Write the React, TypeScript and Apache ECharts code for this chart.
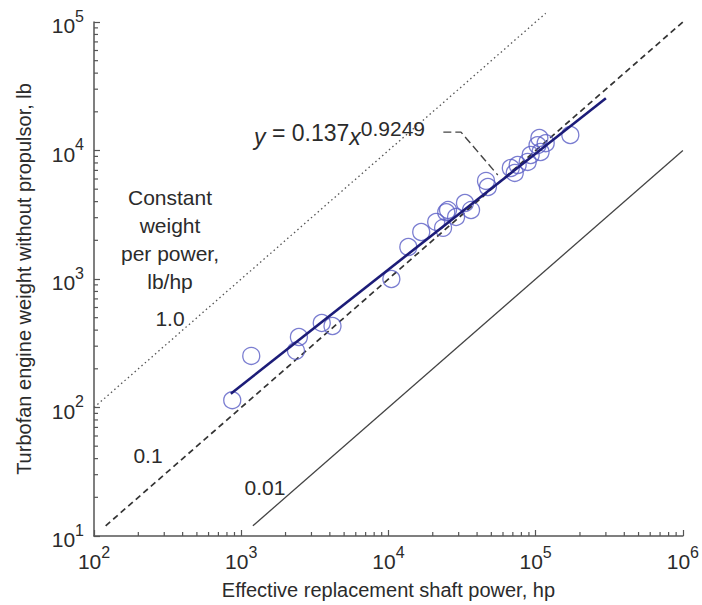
import React, { useEffect, useRef } from "react";
import * as echarts from "echarts";

// Measured engines: effective replacement shaft power (hp) vs. weight without propulsor (lb)
const powerHp = [869, 1170, 2465, 2355, 3524, 4170, 10470, 13650, 16700, 21100, 23500, 24700, 25400, 28800, 33100, 36400, 47400, 46000, 67800, 75500, 72100, 88300, 92500, 103000, 108000, 117000, 106000, 172000];
const weightLb = [114, 252, 354, 276, 455, 431, 1000, 1775, 2320, 2780, 2500, 3310, 3440, 3040, 3900, 3440, 5200, 5800, 7310, 7710, 6690, 8150, 9230, 11000, 9730, 11400, 12500, 13200];

// Fitted power law (as drawn)
const fitX = [850, 300000];
const fitY = [128, 25500];

// Constant weight-per-power reference lines (lb/hp)
const ratioOneX = [100, 117000];
const ratioOneY = [100, 117000];
const ratioTenthX = [120, 1000000];
const ratioTenthY = [12, 100000];
const ratioHundredthX = [1200, 1000000];
const ratioHundredthY = [12, 10000];

// Leader from equation label to fit line
const leaderX = [23600, 31100, 55300];
const leaderY = [13900, 13900, 6440];

// Axis extents / minor tick multipliers
const xDecades = [2, 3, 4, 5];
const yDecades = [1, 2, 3, 4];
const minorMultipliers = [2, 3, 4, 5, 6, 7, 8, 9];

const FONT = "Liberation Sans, Arial, sans-serif";
const TEXT = "#2b2b2b";

export default function App() {
  const ref = useRef<HTMLDivElement>(null);
  useEffect(() => {
    if (!ref.current) return;
    const chart = echarts.init(ref.current, null, { renderer: "svg" });

    const xMinor: number[][] = [];
    xDecades.forEach((d) => minorMultipliers.forEach((m) => xMinor.push([m * Math.pow(10, d), 10])));
    const yMinor: number[][] = [];
    yDecades.forEach((d) => minorMultipliers.forEach((m) => yMinor.push([100, m * Math.pow(10, d)])));

    const pow10Label = (v: number) => `{b|10}{s|${Math.round(Math.log10(v))}}`;
    const labelRich = {
      b: { fontSize: 21, fontFamily: FONT, color: TEXT, lineHeight: 28, verticalAlign: "bottom" },
      s: { fontSize: 16, fontFamily: FONT, color: TEXT, lineHeight: 16, verticalAlign: "top" },
    };

    const pair = (xs: number[], ys: number[]) => xs.map((x, i) => [x, ys[i]]);

    const option: any = {
      animation: false,
      backgroundColor: "#fff",
      grid: { left: 94, right: 15, top: 22, bottom: 69 },
      xAxis: {
        type: "log",
        logBase: 10,
        min: 100,
        max: 1000000,
        name: "Effective replacement shaft power, hp",
        nameLocation: "middle",
        nameGap: 44,
        nameTextStyle: { fontSize: 20, fontFamily: FONT, color: TEXT },
        axisLine: { lineStyle: { color: "#555", width: 1.5 } },
        axisTick: { show: true, inside: true, length: 6, lineStyle: { color: "#555", width: 1.2 } },
        splitLine: { show: false },
        axisLabel: { margin: 8, formatter: pow10Label, rich: labelRich },
      },
      yAxis: {
        type: "log",
        logBase: 10,
        min: 10,
        max: 100000,
        name: "Turbofan engine weight without propulsor, lb",
        nameLocation: "middle",
        nameGap: 60,
        nameTextStyle: { fontSize: 20, fontFamily: FONT, color: TEXT },
        axisLine: { show: true, lineStyle: { color: "#555", width: 1.5 } },
        axisTick: { show: true, inside: true, length: 6, lineStyle: { color: "#555", width: 1.2 } },
        splitLine: { show: false },
        axisLabel: { margin: 10, formatter: pow10Label, rich: labelRich },
      },
      series: [
        {
          type: "custom",
          silent: true,
          clip: false,
          data: xMinor,
          renderItem: (_p: any, api: any) => {
            const p = api.coord([api.value(0), api.value(1)]);
            return { type: "line", shape: { x1: p[0], y1: p[1], x2: p[0], y2: p[1] - 4 }, style: { stroke: "#555", lineWidth: 1.2 } };
          },
        },
        {
          type: "custom",
          silent: true,
          clip: false,
          data: yMinor,
          renderItem: (_p: any, api: any) => {
            const p = api.coord([api.value(0), api.value(1)]);
            return { type: "line", shape: { x1: p[0], y1: p[1], x2: p[0] + 4, y2: p[1] }, style: { stroke: "#555", lineWidth: 1.2 } };
          },
        },
        {
          type: "line",
          clip: false,
          symbol: "none",
          data: pair(ratioOneX, ratioOneY),
          lineStyle: { color: "#555", width: 1.3, type: [1.5, 3] },
        },
        {
          type: "line",
          clip: false,
          symbol: "none",
          data: pair(ratioTenthX, ratioTenthY),
          lineStyle: { color: "#333", width: 1.7, type: [6, 4] },
        },
        {
          type: "line",
          clip: false,
          symbol: "none",
          data: pair(ratioHundredthX, ratioHundredthY),
          lineStyle: { color: "#444", width: 1.3 },
        },
        {
          type: "line",
          clip: false,
          symbol: "none",
          data: pair(leaderX, leaderY),
          lineStyle: { color: "#444", width: 1.4, type: [8, 4] },
        },
        {
          type: "scatter",
          data: pair(powerHp, weightLb),
          symbol: "circle",
          symbolSize: 17,
          itemStyle: { color: "rgba(255,255,255,0)", borderColor: "#5a5ec6", borderWidth: 1.3 },
          z: 4,
        },
        {
          type: "line",
          clip: false,
          symbol: "none",
          data: pair(fitX, fitY),
          lineStyle: { color: "#1c1c78", width: 2.6 },
          z: 5,
        },
      ],
      graphic: [
        {
          type: "text",
          left: 254,
          top: 118,
          style: {
            text: "{i|y} = 0.137{i|x}{s|0.9249}",
            rich: {
              i: { fontStyle: "italic", fontSize: 23, fontFamily: FONT, fill: TEXT, lineHeight: 30, verticalAlign: "bottom" },
              s: { fontSize: 21, fontFamily: FONT, fill: TEXT, lineHeight: 21, verticalAlign: "top" },
            },
            fontSize: 23,
            lineHeight: 30,
            fontFamily: FONT,
            fill: TEXT,
            verticalAlign: "bottom",
          } as any,
        },
        {
          type: "text",
          x: 170,
          y: 183,
          style: {
            text: "Constant\nweight\nper power,\nlb/hp",
            align: "center",
            verticalAlign: "top",
            fontSize: 21,
            lineHeight: 28,
            fontFamily: FONT,
            fill: TEXT,
          },
        },
        { type: "text", x: 170, y: 318, style: { text: "1.0", align: "center", verticalAlign: "middle", fontSize: 21, fontFamily: FONT, fill: TEXT } },
        { type: "text", x: 148, y: 455, style: { text: "0.1", align: "center", verticalAlign: "middle", fontSize: 21, fontFamily: FONT, fill: TEXT } },
        { type: "text", x: 265, y: 487, style: { text: "0.01", align: "center", verticalAlign: "middle", fontSize: 21, fontFamily: FONT, fill: TEXT } },
      ],
    };
    chart.setOption(option);
    return () => chart.dispose();
  }, []);
  return <div ref={ref} style={{ position: "fixed", left: 0, top: 0, width: 702, height: 605 }} />;
}
